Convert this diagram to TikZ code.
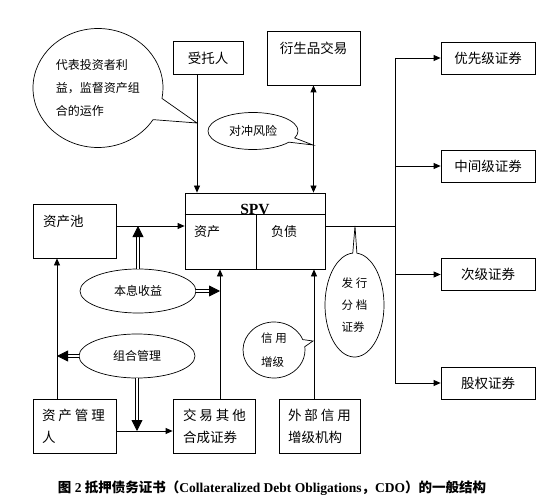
\documentclass[tikz,border=0pt]{standalone}
\usepackage{fontspec}
\setmainfont{Liberation Serif}
\newfontfamily\cjk{Noto Sans CJK SC}
\usetikzlibrary{calc,arrows.meta,shapes.geometric,shapes.callouts}
\newcommand\gap{\kern3pt}
\tikzset{>={Triangle[length=7pt,width=6pt]},
  box/.style={draw, line width=0.8pt, inner sep=0pt, font=\cjk\fontsize{13.5}{22}\selectfont},
  lbox/.style={box, align=left, text width=#1},
  ovl/.style={ellipse, draw, line width=0.7pt, inner sep=0pt, minimum width=116pt, minimum height=44pt, font=\cjk\fontsize{12}{14}\selectfont},
  bubble/.style={ellipse callout, draw, line width=0.7pt, inner sep=0pt, align=left, font=\cjk\fontsize{11.5}{22}\selectfont},
  arr/.style={line width=0.8pt, ->},
  dbl/.style={double, double distance=2pt, line width=0.8pt, -{Triangle[length=11pt,width=11pt]}},
}

\begin{document}
\begin{tikzpicture}[x=1pt, y=-1pt]
  \useasboundingbox (0,0) rectangle (544,500);

  % boxes
  \node[box, minimum width=70pt, minimum height=33pt] (tr) at (208,58) {受托人};
  \node[box, minimum width=93pt, minimum height=54pt, text depth=20pt] (deriv) at (313.5,58) {衍生品交易};
  \node[box, minimum width=140pt, minimum height=76pt] (spv) at (255,231) {};
  \node[lbox=63pt, minimum width=83pt, minimum height=54pt, text depth=20pt] (pool) at (74.5,231) {资产池};
  \node[lbox=65pt, minimum width=83pt, minimum height=54pt] (mgr) at (74.5,426) {资\gap 产\gap 管\gap 理\\人};
  \node[lbox=62pt, minimum width=82pt, minimum height=54pt] (tra) at (214,426) {交\gap 易\gap 其\gap 他\\合成证券};
  \node[lbox=63pt, minimum width=81pt, minimum height=54pt] (ext) at (319.5,426) {外\gap 部\gap 信\gap 用\\增级机构};
  \node[box, minimum width=94pt, minimum height=32pt] (sen) at (488,58) {优先级证券};
  \node[box, minimum width=94pt, minimum height=32pt] (mez) at (488,166) {中间级证券};
  \node[box, minimum width=94pt, minimum height=32pt] (sub) at (488,274.5) {次级证券};
  \node[box, minimum width=94pt, minimum height=32pt] (eq) at (488,383) {股权证券};

  % inside SPV
  \draw[line width=0.8pt] ($(spv.north west)+(0,22)$) -- ($(spv.north east)+(0,22)$);
  \draw[line width=0.8pt] ($(spv.south)+(1,0)$) -- ++(0,-54);
  \node[font=\bfseries\fontsize{15.5}{16}\selectfont, anchor=base, inner sep=0pt] (spvt) at ($(spv.north)+(0,22)$) {SPV};
  \node[font=\cjk\fontsize{13}{13}\selectfont] (ast) at (207,232) {资产};
  \node[font=\cjk\fontsize{13}{13}\selectfont] (lia) at (284,232) {负债};

  % ellipses
  \node[ovl] (ben) at (138,291) {本息收益};
  \node[ovl] (mix) at (137,356) {组合管理};

  % connectors
  \coordinate (a1) at ($(tr.south)+(-11,0)$);
  \draw[arr] (a1) -- (a1 |- spv.north);
  \draw[arr, <->] (deriv.south) -- (deriv.south |- spv.north);
  \coordinate (j1) at ($(pool.east)+(0,-5)$);
  \draw[arr] (j1) -- (j1 -| spv.west);
  \draw[dbl] (ben.north) -- (ben.north |- j1);
  \coordinate (tk) at (395,226);
  \draw[line width=0.8pt] (j1 -| spv.east) -- (tk);
  \draw[line width=0.8pt] (tk |- sen) -- (tk |- eq);
  \draw[arr] (tk |- sen) -- (sen.west);
  \draw[arr] (tk |- mez) -- (mez.west);
  \draw[arr] (tk |- sub) -- (sub.west);
  \draw[arr] (tk |- eq) -- (eq.west);
  \coordinate (a2) at ($(tra.north)+(6,0)$);
  \draw[arr] (a2) -- (a2 |- spv.south);
  \draw[dbl] (ben.east) -- (ben.east -| a2);
  \coordinate (a3) at ($(ext.north)+(-5.5,0)$);
  \draw[arr] (a3) -- (a3 |- spv.south);
  \coordinate (a4) at ($(mgr.north)+(-17.5,0)$);
  \draw[arr] (a4) -- (a4 |- pool.south);
  \draw[dbl] (mix.west) -- (mix.west -| a4);
  \coordinate (a5) at ($(mgr.east)+(0,5)$);
  \draw[arr] (a5) -- (a5 -| tra.west);
  \draw[dbl] (mix.south) -- (mix.south |- a5);

  % callouts
  \coordinate (p1) at (197,123);
  \coordinate (p2) at (313,145);
  \coordinate (p3) at (313,341);
  \coordinate (p4) at (355,226);
  \node[bubble, minimum width=130pt, minimum height=119pt, callout absolute pointer=(p1), callout pointer arc=22, font=\cjk\fontsize{12}{23}\selectfont] (rep) at (98,88) {代表投资者利\\益，监督资产组\\合的运作};
  \node[bubble, minimum width=90pt, minimum height=37pt, callout absolute pointer=(p2), font=\cjk\fontsize{12}{14}\selectfont] (hed) at (253,131) {对冲风险};
  \node[bubble, minimum width=62pt, minimum height=56pt, callout absolute pointer=(p3), font=\cjk\fontsize{11.5}{24}\selectfont] (cre) at (274,350) {信\gap 用\\增级};
  \node[bubble, minimum width=59pt, minimum height=104pt, callout absolute pointer=(p4), callout pointer arc=8] (iss) at (354.5,305) {发\gap 行\\分\gap 档\\证券};

  % caption
  \node[font=\bfseries\fontsize{13.5}{16}\selectfont] (cap) at (272,488) {{\cjk 图} 2 {\cjk 抵押债务证书（}Collateralized Debt Obligations{\cjk ，}CDO{\cjk ）的一般结构}};
\end{tikzpicture}
\end{document}
